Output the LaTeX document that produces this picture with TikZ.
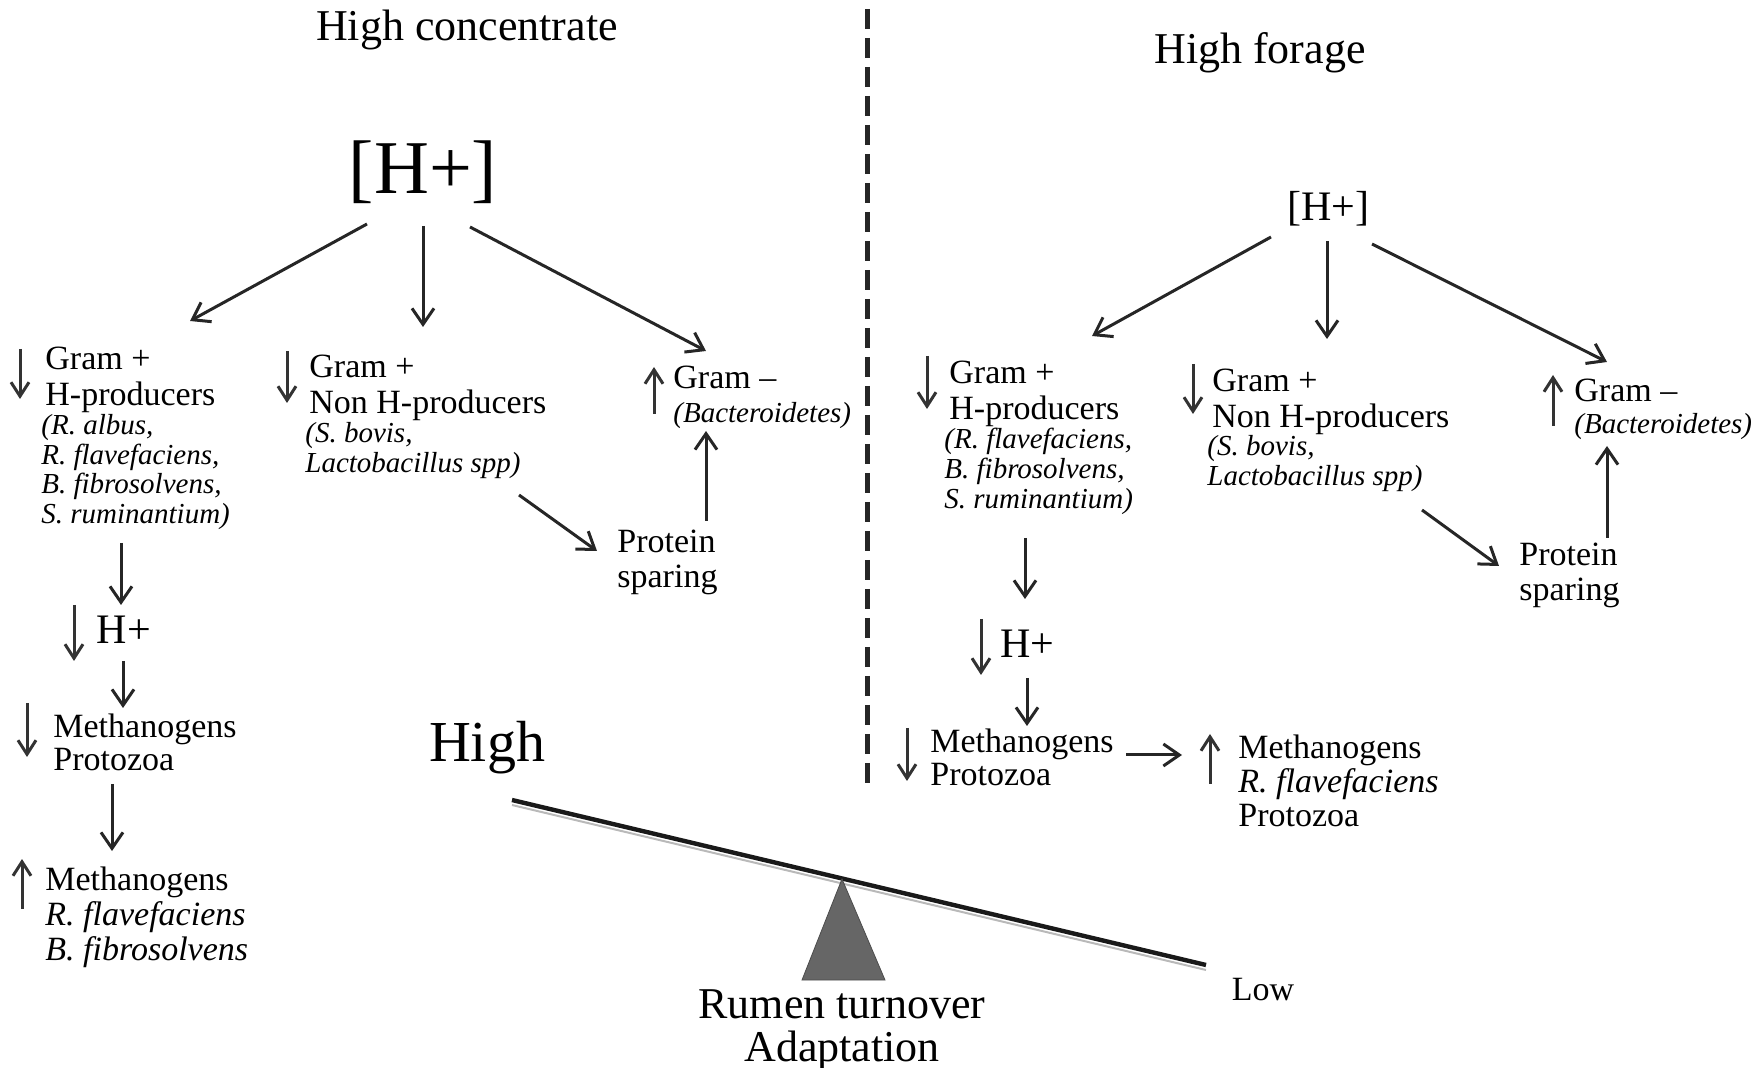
\documentclass[tikz,border=0pt]{standalone}
\usepackage{fontspec}
\setmainfont{Liberation Serif}
\usetikzlibrary{arrows.meta}

\begin{document}
\begin{tikzpicture}[
    x=0.5pt, y=-0.5pt,
    % Node styles
    heading/.style={
        font=\fontsize{22}{21.5}\selectfont,
    },
    ion/.style={
        font=\fontsize{#1}{#1}\selectfont,
    },
    ion/.default=21,
    group/.style={
        anchor=north west, align=left, inner sep=0pt,
        font=\fontsize{17}{#1}\selectfont,
    },
    group/.default=18,
    species/.style={
        anchor=north west, align=left, inner sep=0pt,
        font=\fontsize{14.5}{14.8}\selectfont\itshape,
    },
    line/.style={
        draw=black!85, line width=1.5pt, -{Straight Barb[length=8pt, width=11pt]},
    },
    trend/.style={
        draw=black!80, line width=1.5pt, -{Straight Barb[length=7pt, width=9pt]},
    },
    divider/.style={
        draw=black!85, line width=2.5pt, dash pattern=on 10pt off 4.5pt,
    },
]
\useasboundingbox (0,0) rectangle (1756,1068);

% === Left: high concentrate ===
\node[heading] (hc) at (467,30) {High concentrate};
\node[ion=38]  (lh) at (423,172) {[H+]};

\node[group]      (lgp)   at (45,347)  {Gram +\\H-producers};
\node[species]    (lgpsp) at (41,414)  {(R. albus,\\R. flavefaciens,\\B. fibrosolvens,\\S. ruminantium)};
\node[ion]        (lhp)   at (124,630) {H+};
\node[group=16.5] (lmp)   at (53,714)  {Methanogens\\Protozoa};
\node[group=17.5] (lmr)   at (45,867)  {Methanogens\\\textit{R. flavefaciens}\\\textit{B. fibrosolvens}};

\node[group]      (lnh)   at (309,355) {Gram +\\Non H-producers};
\node[species]    (lnhsp) at (305,422) {(S. bovis,\\Lactobacillus spp)};
\node[group=17.5] (lps)   at (617,530) {Protein\\sparing};
\node[group]      (lgn)   at (673,366) {Gram –};
\node[species]    (lgnsp) at (673,402) {(Bacteroidetes)};

% === Left: arrows ===
\draw[line] ([shift={(-56,52)}]lh.center) -- ([shift={(145,-26)}]lgp.north west);
\draw[line] ([shift={(0,54)}]lh.center)   -- ([shift={(114,-28)}]lnh.north west);
\draw[line] ([shift={(47,55)}]lh.center)  -- ([shift={(33,-15)}]lgn.north west);

\draw[line] ([shift={(80,129)}]lgpsp.north west) -- ([shift={(-3,-25)}]lhp.center);
\draw[line] ([shift={(-1,31)}]lhp.center)        -- ([shift={(70,-6)}]lmp.north west);
\draw[line] ([shift={(59,70)}]lmp.north west)    -- ([shift={(67,-16)}]lmr.north west);

\draw[line] ([shift={(214,73)}]lnhsp.north west) -- ([shift={(-20,21)}]lps.north west);
\draw[line] ([shift={(89,-9)}]lps.north west)    -- ([shift={(33,29)}]lgnsp.north west);

% === Left: up / down marks ===
\draw[trend] ([shift={(-25,2)}]lgp.north west)  -- ++(0,50);
\draw[trend] ([shift={(-50,-25)}]lhp.center)    -- ++(0,56);
\draw[trend] ([shift={(-26,-11)}]lmp.north west) -- ++(0,54);
\draw[trend] ([shift={(-23,42)}]lmr.north west) -- ++(0,-50);
\draw[trend] ([shift={(-22,-4)}]lnh.north west) -- ++(0,52);
\draw[trend] ([shift={(-19,48)}]lgn.north west) -- ++(0,-47);

% === Right: high forage ===
\node[heading] (hf) at (1260,53)  {High forage};
\node[ion]     (rh) at (1328,209) {[H+]};

\node[group]      (rgp)   at (949,361)  {Gram +\\H-producers};
\node[species]    (rgpsp) at (944,428)  {(R. flavefaciens,\\B. fibrosolvens,\\S. ruminantium)};
\node[ion]        (rhp)   at (1027,644) {H+};
\node[group=16.5] (rmp)   at (930,729)  {Methanogens\\Protozoa};
\node[group=17]   (rmr)   at (1238,735) {Methanogens\\\textit{R. flavefaciens}\\Protozoa};

\node[group]      (rnh)   at (1212,369) {Gram +\\Non H-producers};
\node[species]    (rnhsp) at (1207,435) {(S. bovis,\\Lactobacillus spp)};
\node[group=17.5] (rps)   at (1519,543) {Protein\\sparing};
\node[group]      (rgn)   at (1574,379) {Gram –};
\node[species]    (rgnsp) at (1574,413) {(Bacteroidetes)};

% === Right: arrows ===
\draw[line] ([shift={(-57,28)}]rh.center) -- ([shift={(143,-25)}]rgp.north west);
\draw[line] ([shift={(-1,32)}]rh.center)  -- ([shift={(115,-30)}]rnh.north west);
\draw[line] ([shift={(44,35)}]rh.center)  -- ([shift={(33,-17)}]rgn.north west);

\draw[line] ([shift={(81,110)}]rgpsp.north west) -- ([shift={(-2,-45)}]rhp.center);
\draw[line] ([shift={(0,34)}]rhp.center)         -- ([shift={(97,-3)}]rmp.north west);
\draw[line] ([shift={(196,26)}]rmp.north west)   -- ([shift={(-56,20)}]rmr.north west);

\draw[line] ([shift={(215,75)}]rnhsp.north west) -- ([shift={(-20,23)}]rps.north west);
\draw[line] ([shift={(88,-5)}]rps.north west)    -- ([shift={(33,33)}]rgnsp.north west);

% === Right: up / down marks ===
\draw[trend] ([shift={(-22,-5)}]rgp.north west) -- ++(0,53);
\draw[trend] ([shift={(-46,-25)}]rhp.center)    -- ++(0,56);
\draw[trend] ([shift={(-23,-1)}]rmp.north west) -- ++(0,53);
\draw[trend] ([shift={(-28,49)}]rmr.north west) -- ++(0,-50);
\draw[trend] ([shift={(-19,-5)}]rnh.north west) -- ++(0,50);
\draw[trend] ([shift={(-21,47)}]rgn.north west) -- ++(0,-51);

% === Divider and balance ===
\draw[divider] (867,9) -- (867,784);

\node[ion=29] (hi) at (487,748) {High};
\node[ion=17] (lo) at (1263,990) {Low};

\draw[gray!55, line width=1pt] (512,805) -- (1206,970);
\draw[black!90, line width=2.2pt] (512,800) -- (1206,965);
\filldraw[fill=black!60, draw=black!70] (842,879) -- (885,980) -- (802,980) -- cycle;

\node[heading, align=center, anchor=north] (rt) at (842,983) {Rumen turnover\\Adaptation};

\end{tikzpicture}
\end{document}
